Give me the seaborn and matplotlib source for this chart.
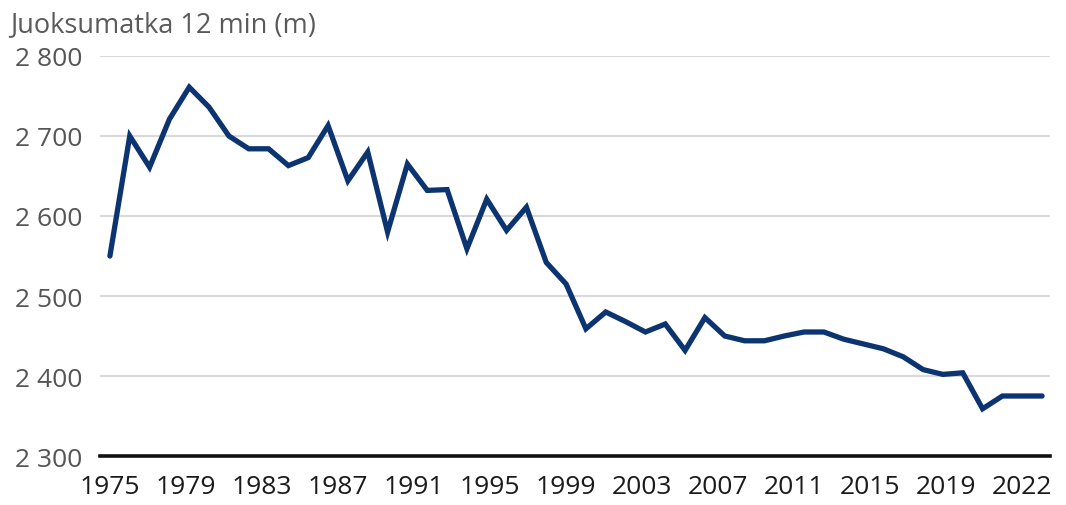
import numpy as np
import pandas as pd
import matplotlib
matplotlib.use("Agg")
import matplotlib.pyplot as plt
import seaborn as sns

# Cooper test: average distance run in 12 minutes, by year
years = list(range(1975, 2023))
distance_m = [
    2550, 2700, 2661, 2721, 2761, 2736, 2700, 2684, 2684, 2663,
    2673, 2713, 2644, 2680, 2580, 2665, 2632, 2633, 2559, 2621,
    2582, 2611, 2542, 2515, 2459, 2480, 2468, 2455, 2465, 2432,
    2473, 2450, 2444, 2444, 2450, 2455, 2455, 2446, 2440, 2434,
    2424, 2408, 2402, 2404, 2359, 2375, 2375, 2375,
]
x_labels = ["1975", "1979", "1983", "1987", "1991", "1995", "1999",
            "2003", "2007", "2011", "2015", "2019", "2022"]
y_ticks = [2300, 2400, 2500, 2600, 2700, 2800]
title = "Juoksumatka 12 min (m)"

df = pd.DataFrame({"vuosi": years, "matka": distance_m})

sns.set_style("white")
plt.rcParams["font.family"] = ["Open Sans", "DejaVu Sans"]

fig = plt.figure(figsize=(10.66, 5.06), dpi=100)
ax = fig.add_axes([100 / 1066, 1 - 457 / 506, 950 / 1066, 400 / 506])

sns.lineplot(data=df, x="vuosi", y="matka", ax=ax, color="#0b3470",
             linewidth=3.8, solid_joinstyle="miter", zorder=3)

ax.set_xlim(1974.5, 2022.4)
ax.set_ylim(2300, 2800)

# horizontal grid
ax.set_yticks(y_ticks)
ax.set_yticklabels([f"{v:,}".replace(",", " ") for v in y_ticks])
ax.yaxis.grid(True, color="#d9d9d9", linewidth=1.5)
ax.xaxis.grid(False)
ax.set_axisbelow(True)

# year labels spread evenly along the axis
label_pos = np.linspace(years[0], years[-1] - 1, len(x_labels))
ax.set_xticks(label_pos)
ax.set_xticklabels(x_labels)

for s in ["top", "right", "left"]:
    ax.spines[s].set_visible(False)
ax.spines["bottom"].set_color("#111111")
ax.spines["bottom"].set_linewidth(2.6)
ax.spines["bottom"].set_zorder(4)

ax.tick_params(axis="y", length=0, pad=13, labelsize=19, labelcolor="#555555")
ax.tick_params(axis="x", length=0, pad=13, labelsize=19, labelcolor="#1a1a1a")
ax.set_xlabel("")
ax.set_ylabel("")

fig.text(10 / 1066, 1 - 32 / 506, title, fontsize=19.5, color="#5a5a5a",
         ha="left", va="baseline")

fig.savefig("out.png", dpi=100, facecolor="white")
